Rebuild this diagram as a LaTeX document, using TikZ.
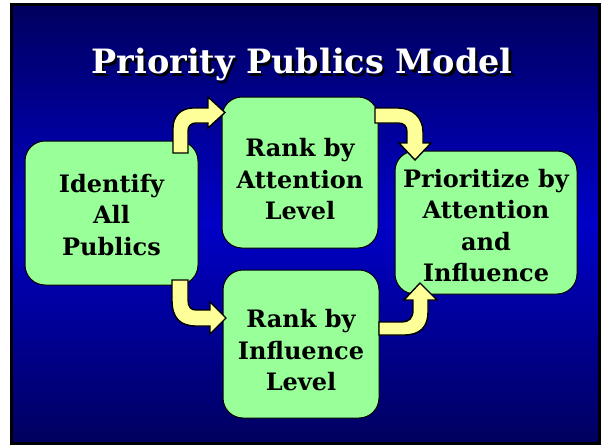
\documentclass[tikz,border=0pt]{standalone}
\usepackage{fontspec}
\setmainfont{DejaVu Serif}
\definecolor{boxgreen}{RGB}{153,255,153}
\definecolor{arrowyellow}{RGB}{255,255,153}
\definecolor{bgdark}{RGB}{0,0,95}
\definecolor{bgmid}{RGB}{0,0,200}
\tikzset{
  stepbox/.style={draw=black, line width=1pt, fill=boxgreen, rounded corners=20pt,
    align=center, font=\bfseries\fontsize{24}{31.5}\selectfont, inner sep=0pt},
  blockarrow/.style={draw=black, line width=1.4pt, fill=arrowyellow, line join=miter},
}
\newcommand{\shadowtext}[1]{\rlap{\hspace{2.5pt}\raisebox{-2.5pt}{\color{black}#1}}#1}
\newcommand{\liftrule}[1]{\rule{0pt}{#1}}
\begin{document}
\begin{tikzpicture}[x=1pt,y=-1pt]
\useasboundingbox (0,0) rectangle (605,447);
\fill[white] (0,0) rectangle (605,447);
% background slide: vertical gradient dark - bright - dark
\foreach \i in {0,...,99}{
  \pgfmathsetmacro\p{100-abs(\i-49.5)*2.02}
  \pgfmathsetmacro\ya{3+\i*4.42}
  \pgfmathsetmacro\yb{3+(\i+1)*4.42+0.6}
  \fill[bgmid!\p!bgdark] (10,\ya) rectangle (601,{min(\yb,445)});
}
\draw[black, line width=3pt] (11.5,4.5) rectangle (599.5,443.5);
% title
\node[text=white, font=\bfseries\fontsize{33.5}{38}\selectfont] (title) at (302,66) {\shadowtext{Priority Publics Model}};
% boxes
\node[stepbox, minimum width=173pt, minimum height=144pt] (ident) at (111.5,213) {\liftrule{22pt}Identify\\All\hspace{1.2em}\\Publics};
\node[stepbox, minimum width=156pt, minimum height=151pt] (att) at (300,172.5) {\liftrule{32pt}Rank by\\Attention\\Level};
\node[stepbox, minimum width=156pt, minimum height=148pt] (inf) at (301,344) {\liftrule{30.5pt}Rank by\\Influence\\Level};
\node[stepbox, minimum width=182pt, minimum height=143pt] (prio) at (486,222.5) {\liftrule{24.5pt}Prioritize by\\Attention\\and\\Influence};
% arrows
% ident -> att
\draw[blockarrow] (173,153)
  -- (173,128) .. controls (173,116) and (181,108) .. (193,108)
  -- (208,108) -- (208,97) -- (225,112.5) -- (208,128) -- (208,123)
  -- (196,123) .. controls (191,123) and (188,126) .. (188,131)
  -- (188,153) -- cycle;
% att -> prio
\draw[blockarrow] (375,108) -- (398,108) .. controls (413,108) and (423,118) .. (423,132)
  -- (423,143) -- (431,143) -- (415,160) -- (399,143) -- (407,143)
  -- (407,132) .. controls (407,126) and (404,123) .. (398,123) -- (375,123) -- cycle;
% ident -> inf
\draw[blockarrow] (172,280) -- (172,300) .. controls (172,318) and (180,326) .. (196,326)
  -- (210,326) -- (210,334) -- (226,318) -- (210,302) -- (210,310)
  -- (196,310) .. controls (191,310) and (188,307) .. (188,300) -- (188,280) -- cycle;
% inf -> prio
\draw[blockarrow] (379,322) -- (402,322) .. controls (409,322) and (413,318) .. (413,310)
  -- (413,300) -- (404,300) -- (420,283) -- (437,300) -- (428,300)
  -- (428,312) .. controls (428,327) and (420,335) .. (404,335) -- (379,335) -- cycle;
\end{tikzpicture}
\end{document}
